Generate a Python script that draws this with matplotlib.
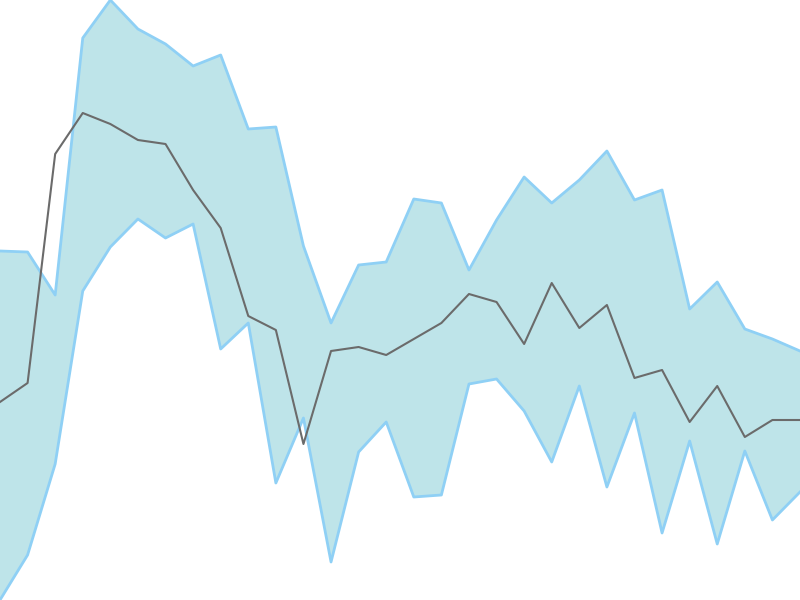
import numpy as np
import matplotlib.pyplot as plt

# band and mean values (0 = bottom, 600 = top)
upper = [349, 348, 305, 562, 600, 571, 556, 534, 545, 471,
         473, 354, 277, 335, 338, 401, 397, 330, 380, 423,
         397, 420, 449, 400, 410, 291, 318, 271, 261, 249]
lower = [0, 45, 136, 309, 353, 381, 362, 376, 251, 277,
         117, 182, 38, 148, 178, 103, 105, 216, 221, 189,
         138, 214, 113, 187, 67, 159, 56, 149, 80, 108]
mean = [198, 217, 446, 487, 476, 460, 456, 410, 372, 284,
        270, 156, 249, 253, 245, 261, 277, 306, 298, 256,
        317, 272, 295, 222, 230, 178, 214, 163, 180, 180]

x = np.arange(len(mean))

fig = plt.figure(figsize=(8, 6), dpi=100)
ax = fig.add_axes([0, 0, 1, 1])
ax.fill_between(x, lower, upper, facecolor="#bee4e9", edgecolor="none")
ax.plot(x, upper, color="#8fd0f5", lw=2)
ax.plot(x, lower, color="#8fd0f5", lw=2)
ax.plot(x, mean, color="#6b6b6b", lw=1.5)
ax.set_xlim(0, len(mean) - 1)
ax.set_ylim(0, 600)
ax.axis("off")
fig.savefig("out.png", dpi=100)
